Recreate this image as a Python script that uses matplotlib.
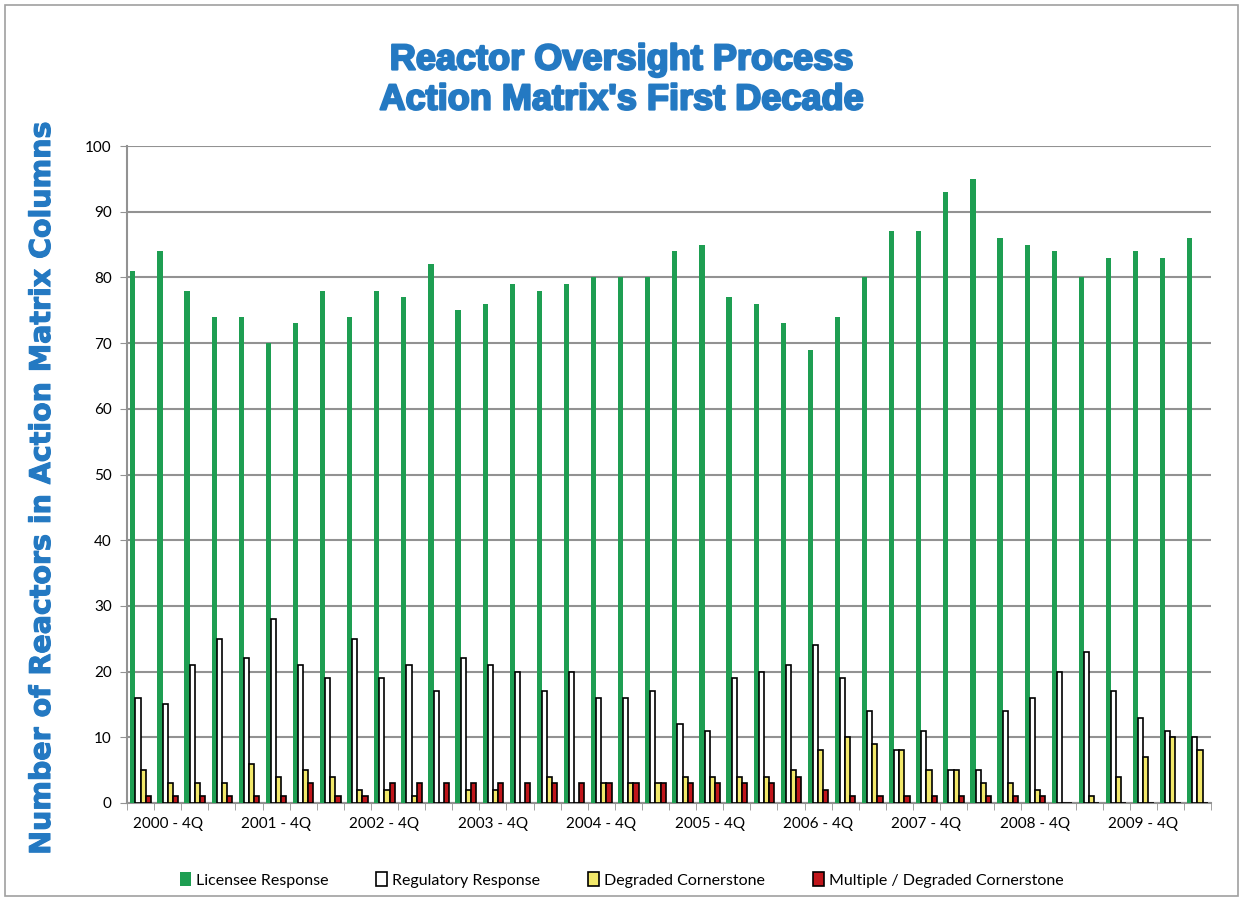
import numpy as np
import matplotlib
matplotlib.use("Agg")
import matplotlib.pyplot as plt
import matplotlib.patheffects as pe
from matplotlib.patches import Rectangle

# 40 quarterly groups, a label on every 4th one
tick_idx = list(range(1, 40, 4))
tick_labels = [f"{y} - 4Q" for y in range(2000, 2010)]

licensee = [81, 84, 78, 74, 74, 70, 73, 78, 74, 78,
            77, 82, 75, 76, 79, 78, 79, 80, 80, 80,
            84, 85, 77, 76, 73, 69, 74, 80, 87, 87,
            93, 95, 86, 85, 84, 80, 83, 84, 83, 86]
regulatory = [16, 15, 21, 25, 22, 28, 21, 19, 25, 19,
              21, 17, 22, 21, 20, 17, 20, 16, 16, 17,
              12, 11, 19, 20, 21, 24, 19, 14, 8, 11,
              5, 5, 14, 16, 20, 23, 17, 13, 11, 10]
degraded = [5, 3, 3, 3, 6, 4, 5, 4, 2, 2,
            1, 0, 2, 2, 0, 4, 0, 3, 3, 3,
            4, 4, 4, 4, 5, 8, 10, 9, 8, 5,
            5, 3, 3, 2, 0, 1, 4, 7, 10, 8]
multiple = [1, 1, 1, 1, 1, 1, 3, 1, 1, 3,
            3, 3, 3, 3, 3, 3, 3, 3, 3, 3,
            3, 3, 3, 3, 4, 2, 1, 1, 1, 1,
            1, 1, 1, 1, 0, 0, 0, 0, 0, 0]

series = [
    ("Licensee Response", licensee, "#1E9E52", "#1E9E52"),
    ("Regulatory Response", regulatory, "white", "black"),
    ("Degraded Cornerstone", degraded, "#F2E86A", "black"),
    ("Multiple / Degraded Cornerstone", multiple, "#C0161B", "black"),
]

blue = "#2479C2"
W, H = 1243, 900
fig = plt.figure(figsize=(W / 100, H / 100), dpi=100)
fig.patches.append(Rectangle((0.004, 0.004), 0.992, 0.991, transform=fig.transFigure,
                             fill=False, edgecolor="#A0A0A0", linewidth=1.2))

ax = fig.add_axes([127 / W, 1 - 803 / H, (1211 - 127) / W, (803 - 146) / H])

x = np.arange(len(licensee))
bw = 0.19
offsets = [-0.285, -0.095, 0.095, 0.285]
for (name, vals, fc, ec), off in zip(series, offsets):
    ax.bar(x + off, vals, width=bw, color=fc, edgecolor=ec,
           linewidth=1.2 if ec == "black" else 0, label=name, zorder=3)

ax.set_xlim(-0.5, len(x) - 0.5)
ax.set_ylim(0, 100)
ax.set_yticks(range(0, 101, 10))
ax.grid(axis="y", color="#929292", linewidth=1.5, zorder=0)
ax.set_xticks(tick_idx)
ax.set_xticklabels(tick_labels)
ax.set_xticks(np.arange(-0.5, len(x)), minor=True)
ax.tick_params(axis="x", which="major", length=0, pad=10, labelsize=11)
ax.tick_params(axis="x", which="minor", length=5, color="#929292", direction="out")
ax.tick_params(axis="y", length=5, color="#929292", labelsize=11, pad=6)
for lab in ax.get_xticklabels() + ax.get_yticklabels():
    lab.set_fontfamily("Lato")
for s in ["top", "right"]:
    ax.spines[s].set_visible(False)
for s in ["left", "bottom"]:
    ax.spines[s].set_color("#929292")
    ax.spines[s].set_linewidth(1.5)

heavy = [pe.withStroke(linewidth=1.6, foreground=blue)]
fig.text(0.5, 1 - 60 / H, "Reactor Oversight Process", ha="center", va="center",
         fontsize=26, fontweight="bold", color=blue, family="Liberation Sans",
         path_effects=heavy)
fig.text(0.5, 1 - 100 / H, "Action Matrix's First Decade", ha="center", va="center",
         fontsize=26, fontweight="bold", color=blue, family="Liberation Sans",
         path_effects=heavy)
fig.text(42 / W, 1 - 488 / H, "Number of Reactors in Action Matrix Columns", rotation=90,
         ha="center", va="center", fontsize=20.5, fontweight="bold", color=blue,
         family="DejaVu Sans", path_effects=[pe.withStroke(linewidth=0.8, foreground=blue)])

leg = fig.legend(loc="center", bbox_to_anchor=(0.5, 1 - 880 / H), ncol=4, frameon=False,
                 handlelength=0.7, handleheight=0.9, handletextpad=0.3, columnspacing=3.0,
                 prop={"family": "Lato", "size": 11.5})

fig.savefig("out.png", dpi=100)
